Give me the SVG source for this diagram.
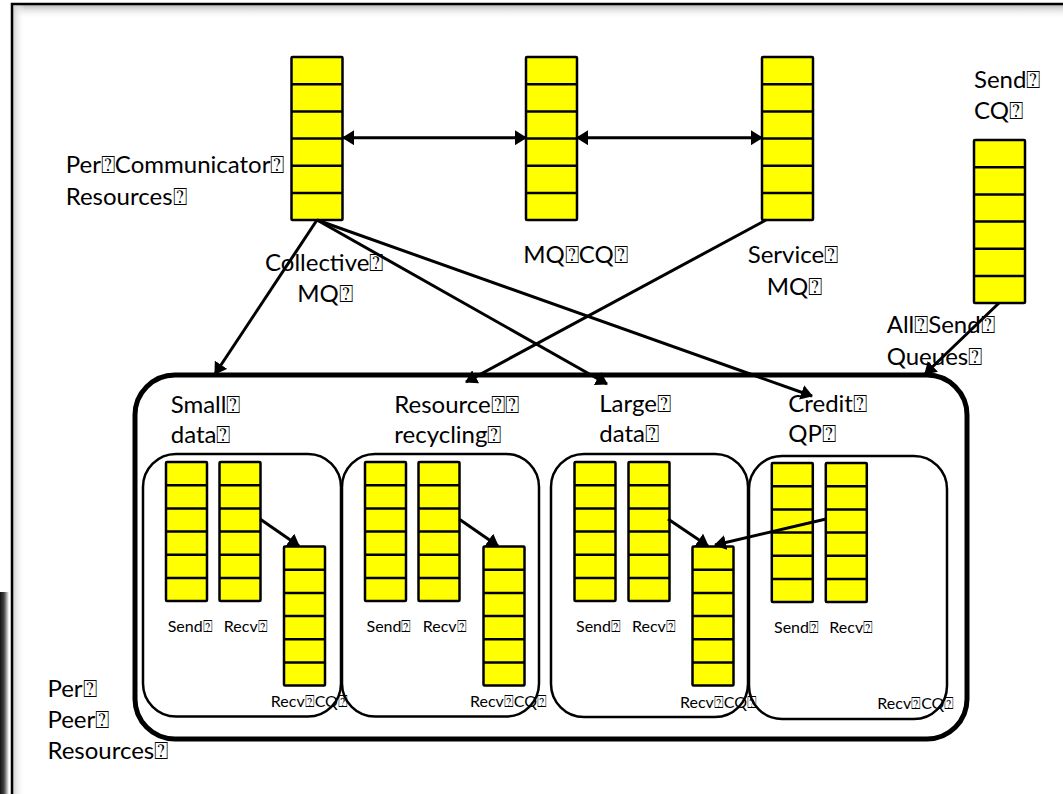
<svg xmlns="http://www.w3.org/2000/svg" width="1063" height="794" viewBox="0 0 1063 794">
<style>
  .bg { fill: #ffffff; }
  .lbl { font-family: "Lato", "DejaVu Sans", sans-serif; font-size: 24px; fill: #000; }
  .sm { font-family: "Lato", "DejaVu Sans", sans-serif; font-size: 16px; fill: #000; }
  .qbox { fill: #ffff00; stroke: #000; stroke-width: 2.5; }
  .qline { stroke: #000; stroke-width: 2.5; }
  .conn { stroke: #000; stroke-width: 3; fill: none; }
  .inner { fill: none; stroke: #000; stroke-width: 2.5; }
  .outer { fill: none; stroke: #000; stroke-width: 5; }
</style>
<defs>
  <marker id="ah" markerUnits="userSpaceOnUse" markerWidth="12" markerHeight="15" refX="11" refY="7.5" orient="auto-start-reverse">
    <path d="M0,0 L12,7.5 L0,15 z" fill="#000"/>
  </marker>
  <linearGradient id="shTop" x1="0" y1="0" x2="0" y2="1">
    <stop offset="0" stop-color="#bdbdbd"/>
    <stop offset="1" stop-color="#ffffff" stop-opacity="0"/>
  </linearGradient>
  <linearGradient id="shLeft" x1="0" y1="0" x2="1" y2="0">
    <stop offset="0" stop-color="#cfcfcf"/>
    <stop offset="1" stop-color="#ffffff" stop-opacity="0"/>
  </linearGradient>
  <linearGradient id="edge" x1="0" y1="0" x2="1" y2="0">
    <stop offset="0" stop-color="#111"/>
    <stop offset="0.45" stop-color="#444"/>
    <stop offset="1" stop-color="#ffffff"/>
  </linearGradient>
  <g id="qL">
    <rect class="qbox" x="0" y="0" width="51" height="163" rx="1"/>
    <path class="qline" d="M0,27.2H51M0,54.4H51M0,81.6H51M0,108.8H51M0,136H51"/>
  </g>
  <g id="qS">
    <rect class="qbox" x="0" y="0" width="41" height="139" rx="1"/>
    <path class="qline" d="M0,23.2H41M0,46.4H41M0,69.6H41M0,92.8H41M0,116H41"/>
  </g>
</defs>
<rect class="bg" x="0" y="0" width="1063" height="794"/>

<g id="frame">
  <rect x="13" y="5" width="1050" height="14" fill="url(#shTop)"/>
  <rect x="13" y="5" width="12" height="789" fill="url(#shLeft)"/>
  <path d="M12,794 V4 H1063" fill="none" stroke="#000" stroke-width="2.5"/>
  <rect x="0" y="592" width="9" height="202" fill="url(#edge)"/>
</g>

<g id="peer-container">
  <rect class="outer" x="135" y="375" width="832" height="364" rx="40" ry="40"/>
</g>

<g id="box-small"><rect class="inner" x="143" y="454" width="198" height="262.5" rx="33" ry="33"/></g>
<g id="box-recycle"><rect class="inner" x="342" y="454" width="197" height="262.5" rx="33" ry="33"/></g>
<g id="box-large"><rect class="inner" x="551" y="454" width="197" height="263" rx="33" ry="33"/></g>
<g id="box-credit"><rect class="inner" x="749" y="456" width="198" height="263" rx="33" ry="33"/></g>

<g id="q-collective"><use href="#qL" x="291.5" y="57"/></g>
<g id="q-mqcq"><use href="#qL" x="526" y="57"/></g>
<g id="q-service"><use href="#qL" x="762" y="57"/></g>
<g id="q-sendcq"><use href="#qL" x="974" y="140"/></g>

<g id="small-send"><use href="#qS" x="166" y="462"/></g>
<g id="small-recv"><use href="#qS" x="219.5" y="462"/></g>
<g id="small-recvcq"><use href="#qS" x="284" y="546.5"/></g>
<g id="rec-send"><use href="#qS" x="365" y="462"/></g>
<g id="rec-recv"><use href="#qS" x="418.5" y="462"/></g>
<g id="rec-recvcq"><use href="#qS" x="483.5" y="546.5"/></g>
<g id="large-send"><use href="#qS" x="574.5" y="462"/></g>
<g id="large-recv"><use href="#qS" x="628.5" y="462"/></g>
<g id="large-recvcq"><use href="#qS" x="692.5" y="546.5"/></g>
<g id="credit-send"><use href="#qS" x="771.8" y="463"/></g>
<g id="credit-recv"><use href="#qS" x="825.8" y="463"/></g>

<g id="connectors">
  <line class="conn" x1="343" y1="137.7" x2="526" y2="137.7" marker-start="url(#ah)" marker-end="url(#ah)"/>
  <line class="conn" x1="577" y1="137.7" x2="762" y2="137.7" marker-start="url(#ah)" marker-end="url(#ah)"/>
  <line class="conn" x1="317" y1="220" x2="215" y2="374" marker-end="url(#ah)"/>
  <line class="conn" x1="317" y1="220" x2="607" y2="384" marker-end="url(#ah)"/>
  <line class="conn" x1="317" y1="220" x2="812" y2="396" marker-end="url(#ah)"/>
  <line class="conn" x1="766" y1="220" x2="466" y2="382" marker-end="url(#ah)"/>
  <line class="conn" x1="999" y1="303" x2="925" y2="374" marker-end="url(#ah)"/>
  <line class="conn" x1="260" y1="519" x2="299" y2="546" marker-end="url(#ah)"/>
  <line class="conn" x1="459" y1="519" x2="498" y2="546" marker-end="url(#ah)"/>
  <line class="conn" x1="668" y1="519" x2="708" y2="546" marker-end="url(#ah)"/>
  <line class="conn" x1="826" y1="519" x2="715" y2="545" marker-end="url(#ah)"/>
</g>

<g id="labels">
  <text class="lbl" x="65.7" y="173.3">Per⍰Communicator⍰</text>
  <text class="lbl" x="65.7" y="205">Resources⍰</text>
  <text class="lbl" x="974" y="88">Send⍰</text>
  <text class="lbl" x="974" y="119">CQ⍰</text>
  <text class="lbl" x="265" y="270.7">Collective⍰</text>
  <text class="lbl" x="297.3" y="301.7">MQ⍰</text>
  <text class="lbl" x="523.3" y="263">MQ⍰CQ⍰</text>
  <text class="lbl" x="747.7" y="263">Service⍰</text>
  <text class="lbl" x="766.7" y="295">MQ⍰</text>
  <text class="lbl" x="886.7" y="333">All⍰Send⍰</text>
  <text class="lbl" x="886.7" y="365">Queues⍰</text>
  <text class="lbl" x="170.7" y="413.3">Small⍰</text>
  <text class="lbl" x="170.7" y="443.3">data⍰</text>
  <text class="lbl" x="394.3" y="413.3">Resource⍰⍰</text>
  <text class="lbl" x="394.3" y="443">recycling⍰</text>
  <text class="lbl" x="599.3" y="412.3">Large⍰</text>
  <text class="lbl" x="599.3" y="442">data⍰</text>
  <text class="lbl" x="788.3" y="412.3">Credit⍰</text>
  <text class="lbl" x="788.3" y="442">QP⍰</text>
  <text class="lbl" x="47.4" y="696.7">Per⍰</text>
  <text class="lbl" x="47.4" y="728.3">Peer⍰</text>
  <text class="lbl" x="47.4" y="759">Resources⍰</text>
  <text class="sm" x="167.7" y="632.3">Send⍰</text>
  <text class="sm" x="223.8" y="632.3">Recv⍰</text>
  <text class="sm" x="270.8" y="707.3">Recv⍰CQ⍰</text>
  <text class="sm" x="366.5" y="632.3">Send⍰</text>
  <text class="sm" x="422.7" y="632.3">Recv⍰</text>
  <text class="sm" x="470" y="707.3">Recv⍰CQ⍰</text>
  <text class="sm" x="576" y="632.3">Send⍰</text>
  <text class="sm" x="632" y="632.3">Recv⍰</text>
  <text class="sm" x="680" y="707.7">Recv⍰CQ⍰</text>
  <text class="sm" x="774" y="633.3">Send⍰</text>
  <text class="sm" x="829.3" y="633.3">Recv⍰</text>
  <text class="sm" x="877.3" y="709">Recv⍰CQ⍰</text>
</g>
</svg>
